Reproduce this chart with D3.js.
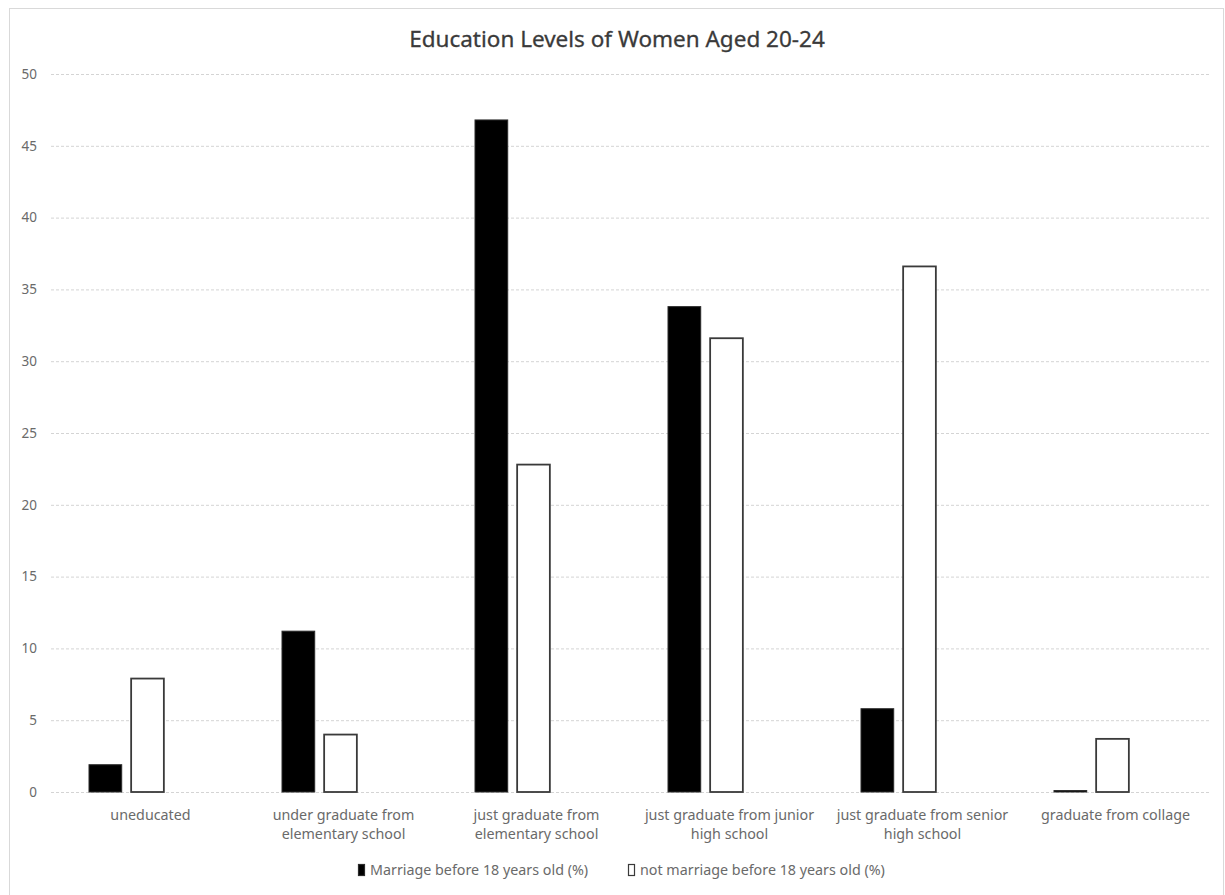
<!DOCTYPE html>
<html>
<head>
<meta charset="utf-8">
<script src="https://cdn.jsdelivr.net/npm/d3@7/dist/d3.min.js"></script>
<style>
  html, body { margin: 0; padding: 0; background: #fff; }
  svg { display: block; }
  text { font-family: "Noto Sans", "Open Sans", "Liberation Sans", sans-serif; }
</style>
</head>
<body>
<svg id="chart" width="1225" height="895"></svg>
<script>
// Education levels (two-line labels separated by "\n")
const categories = [
  "uneducated",
  "under graduate from\nelementary school",
  "just graduate from\nelementary school",
  "just graduate from junior\nhigh school",
  "just graduate from senior\nhigh school",
  "graduate from collage"
];
const seriesNames = [
  "Marriage before 18 years old (%)",
  "not marriage before 18 years old (%)"
];
const marriedBefore18 = [1.9, 11.2, 46.8, 33.8, 5.8, 0.1];
const notMarriedBefore18 = [7.9, 4.0, 22.8, 31.6, 36.6, 3.7];
const yTicks = [0, 5, 10, 15, 20, 25, 30, 35, 40, 45, 50];
const title = "Education Levels of Women Aged 20-24";

const svg = d3.select("#chart");
const W = 1225, H = 895;
const plot = { left: 51, right: 1209, top: 74, bottom: 792 };

// chart area frame
svg.append("rect")
  .attr("x", 9.5).attr("y", 8.5)
  .attr("width", W - 11).attr("height", H)
  .attr("fill", "#fff").attr("stroke", "#d9d9d9").attr("stroke-width", 1);

// title
svg.append("text")
  .attr("x", 617).attr("y", 47)
  .attr("text-anchor", "middle")
  .attr("font-size", 22.5)
  .attr("fill", "#3a3a3a")
  .attr("stroke", "#3a3a3a").attr("stroke-width", 0.3)
  .text(title);

const x = d3.scaleBand().domain(categories).range([plot.left, plot.right]).padding(0);
const y = d3.scaleLinear().domain([0, 50]).range([plot.bottom, plot.top]);

// each category reserves three bar slots; the two series occupy the first two
const slotCount = 3;
const groupWidth = 118;
const slot = d3.scaleBand().domain(d3.range(slotCount))
  .range([-groupWidth / 2, groupWidth / 2]).paddingInner(0.2).paddingOuter(0);

// horizontal gridlines
const yAxis = d3.axisLeft(y).tickValues(yTicks)
  .tickSize(-(plot.right - plot.left)).tickPadding(14);
const gy = svg.append("g").attr("transform", `translate(${plot.left},0)`).call(yAxis);
gy.select(".domain").remove();
gy.selectAll(".tick line")
  .attr("stroke", "#d4d4d4").attr("stroke-width", 1)
  .attr("stroke-dasharray", "3,2");
gy.selectAll(".tick text")
  .attr("fill", "#6a6a6a").attr("font-size", 13.5);

// bars
const rows = categories.map((c, i) => ({ cat: c, vals: [marriedBefore18[i], notMarriedBefore18[i]] }));
const fills = ["#000000", "#ffffff"];
const strokes = ["#2b2b2b", "#3a3a3a"];

const groups = svg.append("g").selectAll("g").data(rows).join("g")
  .attr("transform", d => `translate(${x(d.cat) + x.bandwidth() / 2},0)`);

groups.selectAll("rect")
  .data(d => d.vals.map((v, s) => ({ v, s })))
  .join("rect")
  .attr("x", d => slot(d.s) + 0.5)
  .attr("width", slot.bandwidth() - 1)
  .attr("y", d => y(d.v))
  .attr("height", d => y(0) - y(d.v))
  .attr("fill", d => fills[d.s])
  .attr("stroke", d => strokes[d.s])
  .attr("stroke-width", d => d.s === 0 ? 1 : 1.8);

// category labels
const xl = svg.append("g");
categories.forEach(c => {
  const lines = c.split("\n");
  const cx = x(c) + x.bandwidth() / 2 + 3;
  const t = xl.append("text")
    .attr("x", cx)
    .attr("y", 820)
    .attr("text-anchor", "middle")
    .attr("font-size", 14.3)
    .attr("fill", "#6a6a6a");
  lines.forEach((ln, i) => {
    t.append("tspan").attr("x", cx)
      .attr("dy", i === 0 ? 0 : 19).text(ln);
  });
});

// legend
const legendItems = [
  { name: seriesNames[0], x: 358, s: 0 },
  { name: seriesNames[1], x: 628, s: 1 }
];
const lg = svg.append("g").selectAll("g").data(legendItems).join("g")
  .attr("transform", d => `translate(${d.x},864)`);
lg.append("rect")
  .attr("x", 0.5).attr("y", 0.5).attr("width", 6).attr("height", 11)
  .attr("fill", d => fills[d.s]).attr("stroke", d => strokes[d.s]).attr("stroke-width", 1.2);
lg.append("text")
  .attr("x", 12).attr("y", 11)
  .attr("font-size", 14.3)
  .attr("fill", "#6a6a6a")
  .text(d => d.name);
</script>
</body>
</html>
